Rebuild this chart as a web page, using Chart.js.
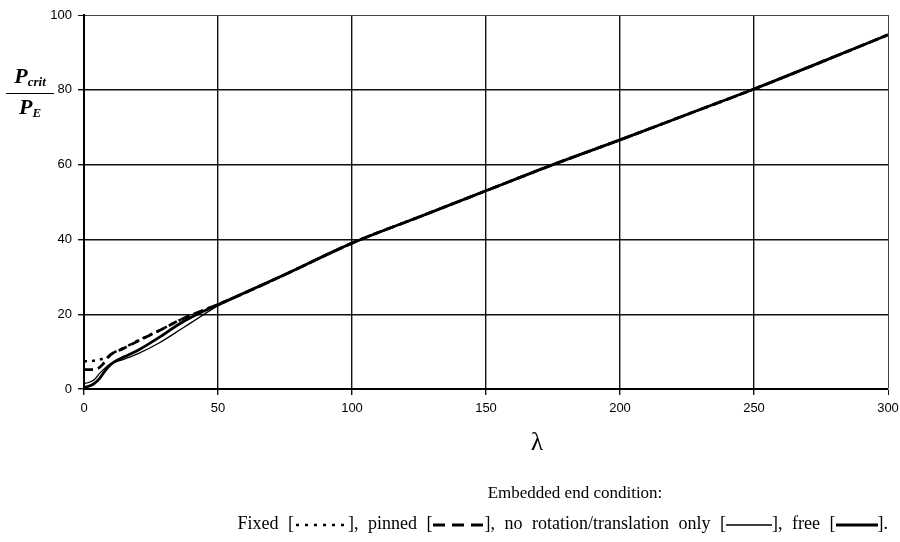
<!DOCTYPE html>
<html>
<head>
<meta charset="utf-8">
<script src="https://cdn.jsdelivr.net/npm/chart.js@4"></script>
<style>
  html, body { margin: 0; padding: 0; background: #fff; }
  #wrap { position: relative; width: 900px; height: 542px; }
  canvas { position: absolute; left: 0; top: 0; }
  .serif { font-family: "Liberation Serif", "Times New Roman", serif; color: #000; }
  #ytitle { position: absolute; left: 6px; top: 64px; width: 48px; text-align: center; font-weight: bold; font-style: italic; }
  #ytitle .num { font-size: 22px; line-height: 23px; }
  #ytitle .den { font-size: 22px; line-height: 23px; border-top: 1.5px solid #000; padding-top: 1px; }
  #ytitle sub { font-size: 13px; vertical-align: -3px; }
  #xtitle { position: absolute; left: 517px; width: 40px; top: 428px; text-align: center; font-size: 25px; }
  #leg1 { position: absolute; left: 380px; width: 390px; top: 483px; text-align: center; font-size: 17px; }
  #leg2 { position: absolute; right: 12px; top: 513px; white-space: nowrap; font-size: 18px; word-spacing: 5px; }
  #leg2 svg { vertical-align: middle; }
</style>
</head>
<body>
<div id="wrap">
  <canvas id="c" width="900" height="542"></canvas>
  <div id="ytitle" class="serif"><div class="num">P<sub>crit</sub></div><div class="den">P<sub>E</sub></div></div>
  <div id="xtitle" class="serif">λ</div>
  <div id="leg1" class="serif">Embedded end condition:</div>
  <div id="leg2" class="serif">Fixed [<svg width="54" height="10"><line x1="2" y1="5" x2="54" y2="5" stroke="#000" stroke-width="2.5" stroke-dasharray="3,6"/></svg>], pinned [<svg width="52" height="10"><line x1="0" y1="5" x2="52" y2="5" stroke="#000" stroke-width="3" stroke-dasharray="12,7"/></svg>], no rotation/translation only [<svg width="46" height="10"><line x1="0" y1="5" x2="46" y2="5" stroke="#000" stroke-width="1.3"/></svg>], free [<svg width="42" height="10"><line x1="0" y1="5" x2="42" y2="5" stroke="#000" stroke-width="3"/></svg>].</div>
</div>
<script>
// Slenderness values and Pcrit/PE for each embedded end condition
const lambdaFixed = [0, 3, 6, 9, 11, 14, 20, 28, 36, 44, 50, 75, 100, 125, 150, 175, 200, 225, 250, 275, 300];
const valuesFixed = [7.4, 7.5, 7.9, 8.5, 9.7, 10.7, 12.9, 15.6, 18.5, 20.9, 22.6, 30.6, 39.0, 46.0, 53.0, 60.0, 66.6, 73.4, 80.2, 87.4, 94.7];

const lambdaPinned = [0, 3, 5, 7, 9, 11, 14, 20, 28, 36, 44, 50, 75, 100, 125, 150, 175, 200, 225, 250, 275, 300];
const valuesPinned = [5.2, 5.2, 5.4, 6.6, 8.6, 9.7, 10.6, 12.8, 15.6, 18.5, 20.9, 22.6, 30.6, 39.0, 46.0, 53.0, 60.0, 66.6, 73.4, 80.2, 87.4, 94.7];

const lambdaNoRot = [0, 2, 4, 6, 8, 10, 15, 20, 28, 36, 44, 50, 75, 100, 125, 150, 175, 200, 225, 250, 275, 300];
const valuesNoRot = [1.5, 1.8, 2.6, 4.3, 5.7, 6.7, 8.0, 9.4, 12.3, 15.9, 19.6, 22.3, 30.6, 39.0, 46.0, 53.0, 60.0, 66.6, 73.4, 80.2, 87.4, 94.7];

const lambdaFree = [0, 2, 4, 6, 8, 10, 15, 20, 28, 36, 44, 50, 75, 100, 125, 150, 175, 200, 225, 250, 275, 300];
const valuesFree = [0.4, 0.8, 1.6, 3.0, 5.0, 6.6, 8.6, 10.3, 13.8, 17.6, 20.6, 22.5, 30.6, 39.0, 46.0, 53.0, 60.0, 66.6, 73.4, 80.2, 87.4, 94.7];

const seriesNames = ['Fixed', 'pinned', 'no rotation/translation only', 'free'];
const xTickLabels = [0, 50, 100, 150, 200, 250, 300];
const yTickLabels = [0, 20, 40, 60, 80, 100];

function pts(xs, ys) { return xs.map((x, i) => ({ x: x, y: ys[i] })); }

const common = { pointRadius: 0, fill: false, cubicInterpolationMode: 'monotone', borderColor: '#000' };
const tickFont = { family: '"Liberation Sans", Arial, sans-serif', size: 13 };

new Chart(document.getElementById('c'), {
  type: 'line',
  data: {
    datasets: [
      Object.assign({ label: seriesNames[3], data: pts(lambdaFree, valuesFree), borderWidth: 2.8 }, common),
      Object.assign({ label: seriesNames[2], data: pts(lambdaNoRot, valuesNoRot), borderWidth: 1.3 }, common),
      Object.assign({ label: seriesNames[1], data: pts(lambdaPinned, valuesPinned), borderWidth: 2.8, borderDash: [9, 5] }, common),
      Object.assign({ label: seriesNames[0], data: pts(lambdaFixed, valuesFixed), borderWidth: 2.6, borderDash: [3, 5] }, common)
    ]
  },
  options: {
    responsive: false,
    animation: false,
    devicePixelRatio: 1,
    layout: { padding: { left: 50, right: 12, top: 15, bottom: 83 } },
    plugins: { legend: { display: false }, tooltip: { enabled: false } },
    scales: {
      x: {
        type: 'linear', min: 0, max: 300,
        afterFit: s => { s.height = 70; s.paddingRight = 0; s.paddingLeft = 0; },
        afterBuildTicks: s => { s.ticks = xTickLabels.map(v => ({ value: v })); },
        ticks: { padding: 6, color: '#000', font: tickFont },
        grid: {
          color: c => (c.tick && c.tick.value === 300) ? '#444' : '#111',
          lineWidth: c => (c.tick && c.tick.value === 300) ? 1 : 1.4,
          tickLength: 6, tickColor: '#111'
        },
        border: { color: '#000', width: 2 }
      },
      y: {
        min: 0, max: 100,
        afterFit: s => { s.width = 34; s.paddingTop = 0; s.paddingBottom = 0; },
        afterBuildTicks: s => { s.ticks = yTickLabels.map(v => ({ value: v })); },
        ticks: { padding: 6, color: '#000', font: tickFont },
        grid: {
          color: c => (c.tick && c.tick.value === 100) ? '#444' : '#111',
          lineWidth: c => (c.tick && c.tick.value === 100) ? 1 : 1.4,
          tickLength: 6, tickColor: '#111'
        },
        border: { color: '#000', width: 2 }
      }
    }
  }
});
</script>
</body>
</html>
